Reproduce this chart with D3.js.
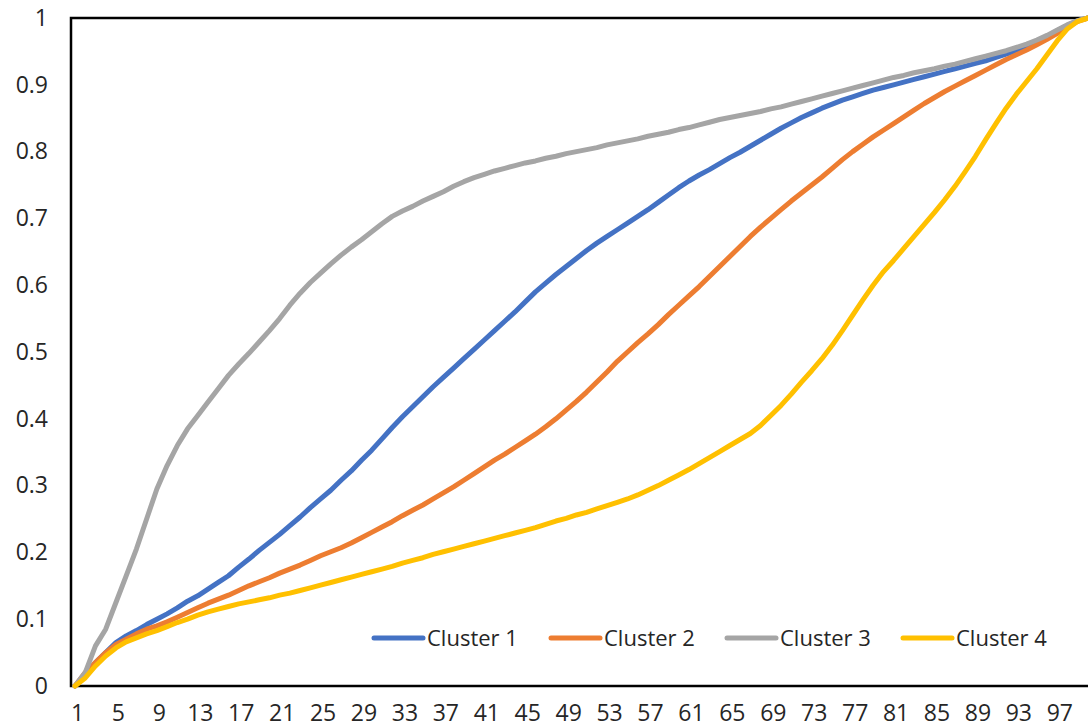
<!DOCTYPE html>
<html>
<head>
<meta charset="utf-8">
<script src="https://cdn.jsdelivr.net/npm/d3@7/dist/d3.min.js"></script>
<style>
  html, body { margin: 0; padding: 0; background: #fff; overflow: hidden; }
  svg { display: block; font-family: "Open Sans", "Noto Sans", sans-serif; }
</style>
</head>
<body>
<svg id="chart" width="1088" height="728"></svg>
<script>
// Cumulative share per cluster, positions 1..100
const positions = d3.range(1, 101);

const cluster1 = [0,0.015,0.035,0.05,0.065,0.075,0.083,0.092,0.1,0.108,
  0.117,0.127,0.135,0.145,0.155,0.165,0.178,0.19,0.203,0.215,
  0.227,0.24,0.253,0.267,0.28,0.293,0.308,0.322,0.338,0.353,
  0.37,0.387,0.403,0.418,0.433,0.448,0.462,0.476,0.49,0.504,
  0.518,0.532,0.546,0.56,0.575,0.59,0.603,0.616,0.628,0.64,
  0.652,0.663,0.673,0.683,0.693,0.703,0.713,0.724,0.735,0.746,
  0.756,0.765,0.773,0.782,0.791,0.799,0.808,0.817,0.826,0.835,
  0.843,0.851,0.858,0.865,0.871,0.877,0.882,0.887,0.892,0.896,
  0.9,0.904,0.908,0.912,0.916,0.92,0.924,0.928,0.932,0.936,
  0.941,0.946,0.951,0.957,0.964,0.972,0.981,0.989,0.996,1];

const cluster2 = [0,0.02,0.035,0.05,0.062,0.07,0.078,0.085,0.09,0.096,
  0.103,0.11,0.117,0.124,0.13,0.136,0.143,0.15,0.156,0.162,
  0.169,0.175,0.181,0.188,0.195,0.201,0.207,0.214,0.222,0.23,
  0.238,0.246,0.255,0.263,0.271,0.28,0.289,0.298,0.308,0.318,
  0.328,0.338,0.347,0.357,0.367,0.377,0.388,0.4,0.413,0.426,
  0.44,0.455,0.47,0.486,0.5,0.514,0.527,0.541,0.556,0.57,
  0.584,0.598,0.613,0.628,0.643,0.658,0.673,0.687,0.7,0.713,
  0.726,0.738,0.75,0.762,0.775,0.788,0.8,0.811,0.822,0.832,
  0.842,0.852,0.862,0.872,0.881,0.89,0.898,0.906,0.914,0.922,
  0.93,0.938,0.945,0.952,0.96,0.968,0.977,0.987,0.995,1];

const cluster3 = [0,0.02,0.06,0.085,0.125,0.165,0.205,0.25,0.295,0.33,
  0.36,0.385,0.405,0.425,0.445,0.465,0.482,0.498,0.515,0.532,
  0.55,0.57,0.588,0.604,0.618,0.632,0.645,0.657,0.668,0.68,
  0.692,0.703,0.711,0.718,0.726,0.733,0.74,0.748,0.755,0.761,
  0.766,0.771,0.775,0.779,0.783,0.786,0.79,0.793,0.797,0.8,
  0.803,0.806,0.81,0.813,0.816,0.819,0.823,0.826,0.829,0.833,
  0.836,0.84,0.844,0.848,0.851,0.854,0.857,0.86,0.864,0.867,
  0.871,0.875,0.879,0.883,0.887,0.891,0.895,0.899,0.903,0.907,
  0.911,0.914,0.918,0.921,0.924,0.928,0.931,0.935,0.939,0.943,
  0.947,0.951,0.956,0.961,0.967,0.974,0.982,0.99,0.996,1];

const cluster4 = [0,0.012,0.03,0.045,0.057,0.066,0.072,0.078,0.083,0.089,
  0.095,0.1,0.106,0.111,0.115,0.119,0.123,0.126,0.129,0.132,
  0.136,0.139,0.143,0.147,0.151,0.155,0.159,0.163,0.167,0.171,
  0.175,0.179,0.184,0.188,0.192,0.197,0.201,0.205,0.209,0.213,
  0.217,0.221,0.225,0.229,0.233,0.237,0.242,0.247,0.251,0.256,
  0.26,0.265,0.27,0.275,0.28,0.286,0.293,0.3,0.308,0.316,
  0.324,0.333,0.342,0.351,0.36,0.369,0.378,0.39,0.405,0.42,
  0.437,0.455,0.472,0.49,0.51,0.532,0.555,0.578,0.6,0.62,
  0.637,0.655,0.673,0.691,0.709,0.728,0.748,0.77,0.793,0.818,
  0.842,0.865,0.886,0.905,0.924,0.945,0.966,0.984,0.995,1];

const seriesNames = ["Cluster 1", "Cluster 2", "Cluster 3", "Cluster 4"];
const seriesColors = ["#4472C4", "#ED7D31", "#A5A5A5", "#FFC000"];
const seriesValues = [cluster1, cluster2, cluster3, cluster4];

const xTickValues = d3.range(1, 101, 4);            // 1, 5, 9, ... 97
const yTickValues = d3.range(0, 11).map(d => d / 10); // 0 .. 1

const svg = d3.select("#chart");

const plotLeft = 71, plotTop = 18, plotBottom = 686;

const x = d3.scaleLinear().domain([1, 100]).range([75, 1088]);
const y = d3.scaleLinear().domain([0, 1]).range([plotBottom, plotTop]);

// Plot-area frame (top, left, bottom edges; right edge runs past the canvas)
svg.append("rect")
  .attr("x", plotLeft).attr("y", plotTop)
  .attr("width", 1100 - plotLeft).attr("height", plotBottom - plotTop)
  .attr("fill", "none")
  .attr("stroke", "#000")
  .attr("stroke-width", 2.5);

// Y axis labels
const yAxis = d3.axisLeft(y)
  .tickValues(yTickValues)
  .tickSize(0)
  .tickPadding(0)
  .tickFormat(d => d3.format("~g")(+d.toFixed(1)));

svg.append("g")
  .attr("transform", "translate(48,0)")
  .call(yAxis)
  .call(g => g.select(".domain").remove())
  .call(g => g.selectAll("text")
    .attr("font-family", "'Open Sans', sans-serif")
    .attr("font-size", 23)
    .attr("fill", "#262626"));

// X axis labels
const xAxis = d3.axisBottom(x)
  .tickValues(xTickValues)
  .tickSize(0)
  .tickPadding(0)
  .tickFormat(d3.format("d"));

svg.append("g")
  .attr("transform", "translate(2,705)")
  .call(xAxis)
  .call(g => g.select(".domain").remove())
  .call(g => g.selectAll("text")
    .attr("font-family", "'Open Sans', sans-serif")
    .attr("font-size", 23)
    .attr("fill", "#262626"));

// Series lines
const line = d3.line()
  .x((d, i) => x(positions[i]))
  .y(d => y(d))
  .curve(d3.curveLinear);

svg.append("g")
  .selectAll("path")
  .data(seriesValues)
  .join("path")
  .attr("d", d => line(d))
  .attr("fill", "none")
  .attr("stroke", (d, i) => seriesColors[i])
  .attr("stroke-width", 5)
  .attr("stroke-linejoin", "round")
  .attr("stroke-linecap", "round");

// Legend
const legendX = [372, 549, 725, 901];
const legend = svg.append("g")
  .selectAll("g")
  .data(seriesNames)
  .join("g")
  .attr("transform", (d, i) => `translate(${legendX[i]},638)`);

legend.append("line")
  .attr("x1", 2).attr("x2", 51)
  .attr("y1", 0).attr("y2", 0)
  .attr("stroke", (d, i) => seriesColors[i])
  .attr("stroke-width", 5)
  .attr("stroke-linecap", "round");

legend.append("text")
  .attr("x", 55)
  .attr("y", 0)
  .attr("dy", "0.35em")
  .attr("font-family", "'Open Sans', sans-serif")
  .attr("font-size", 22)
  .attr("fill", "#262626")
  .text(d => d);
</script>
</body>
</html>
